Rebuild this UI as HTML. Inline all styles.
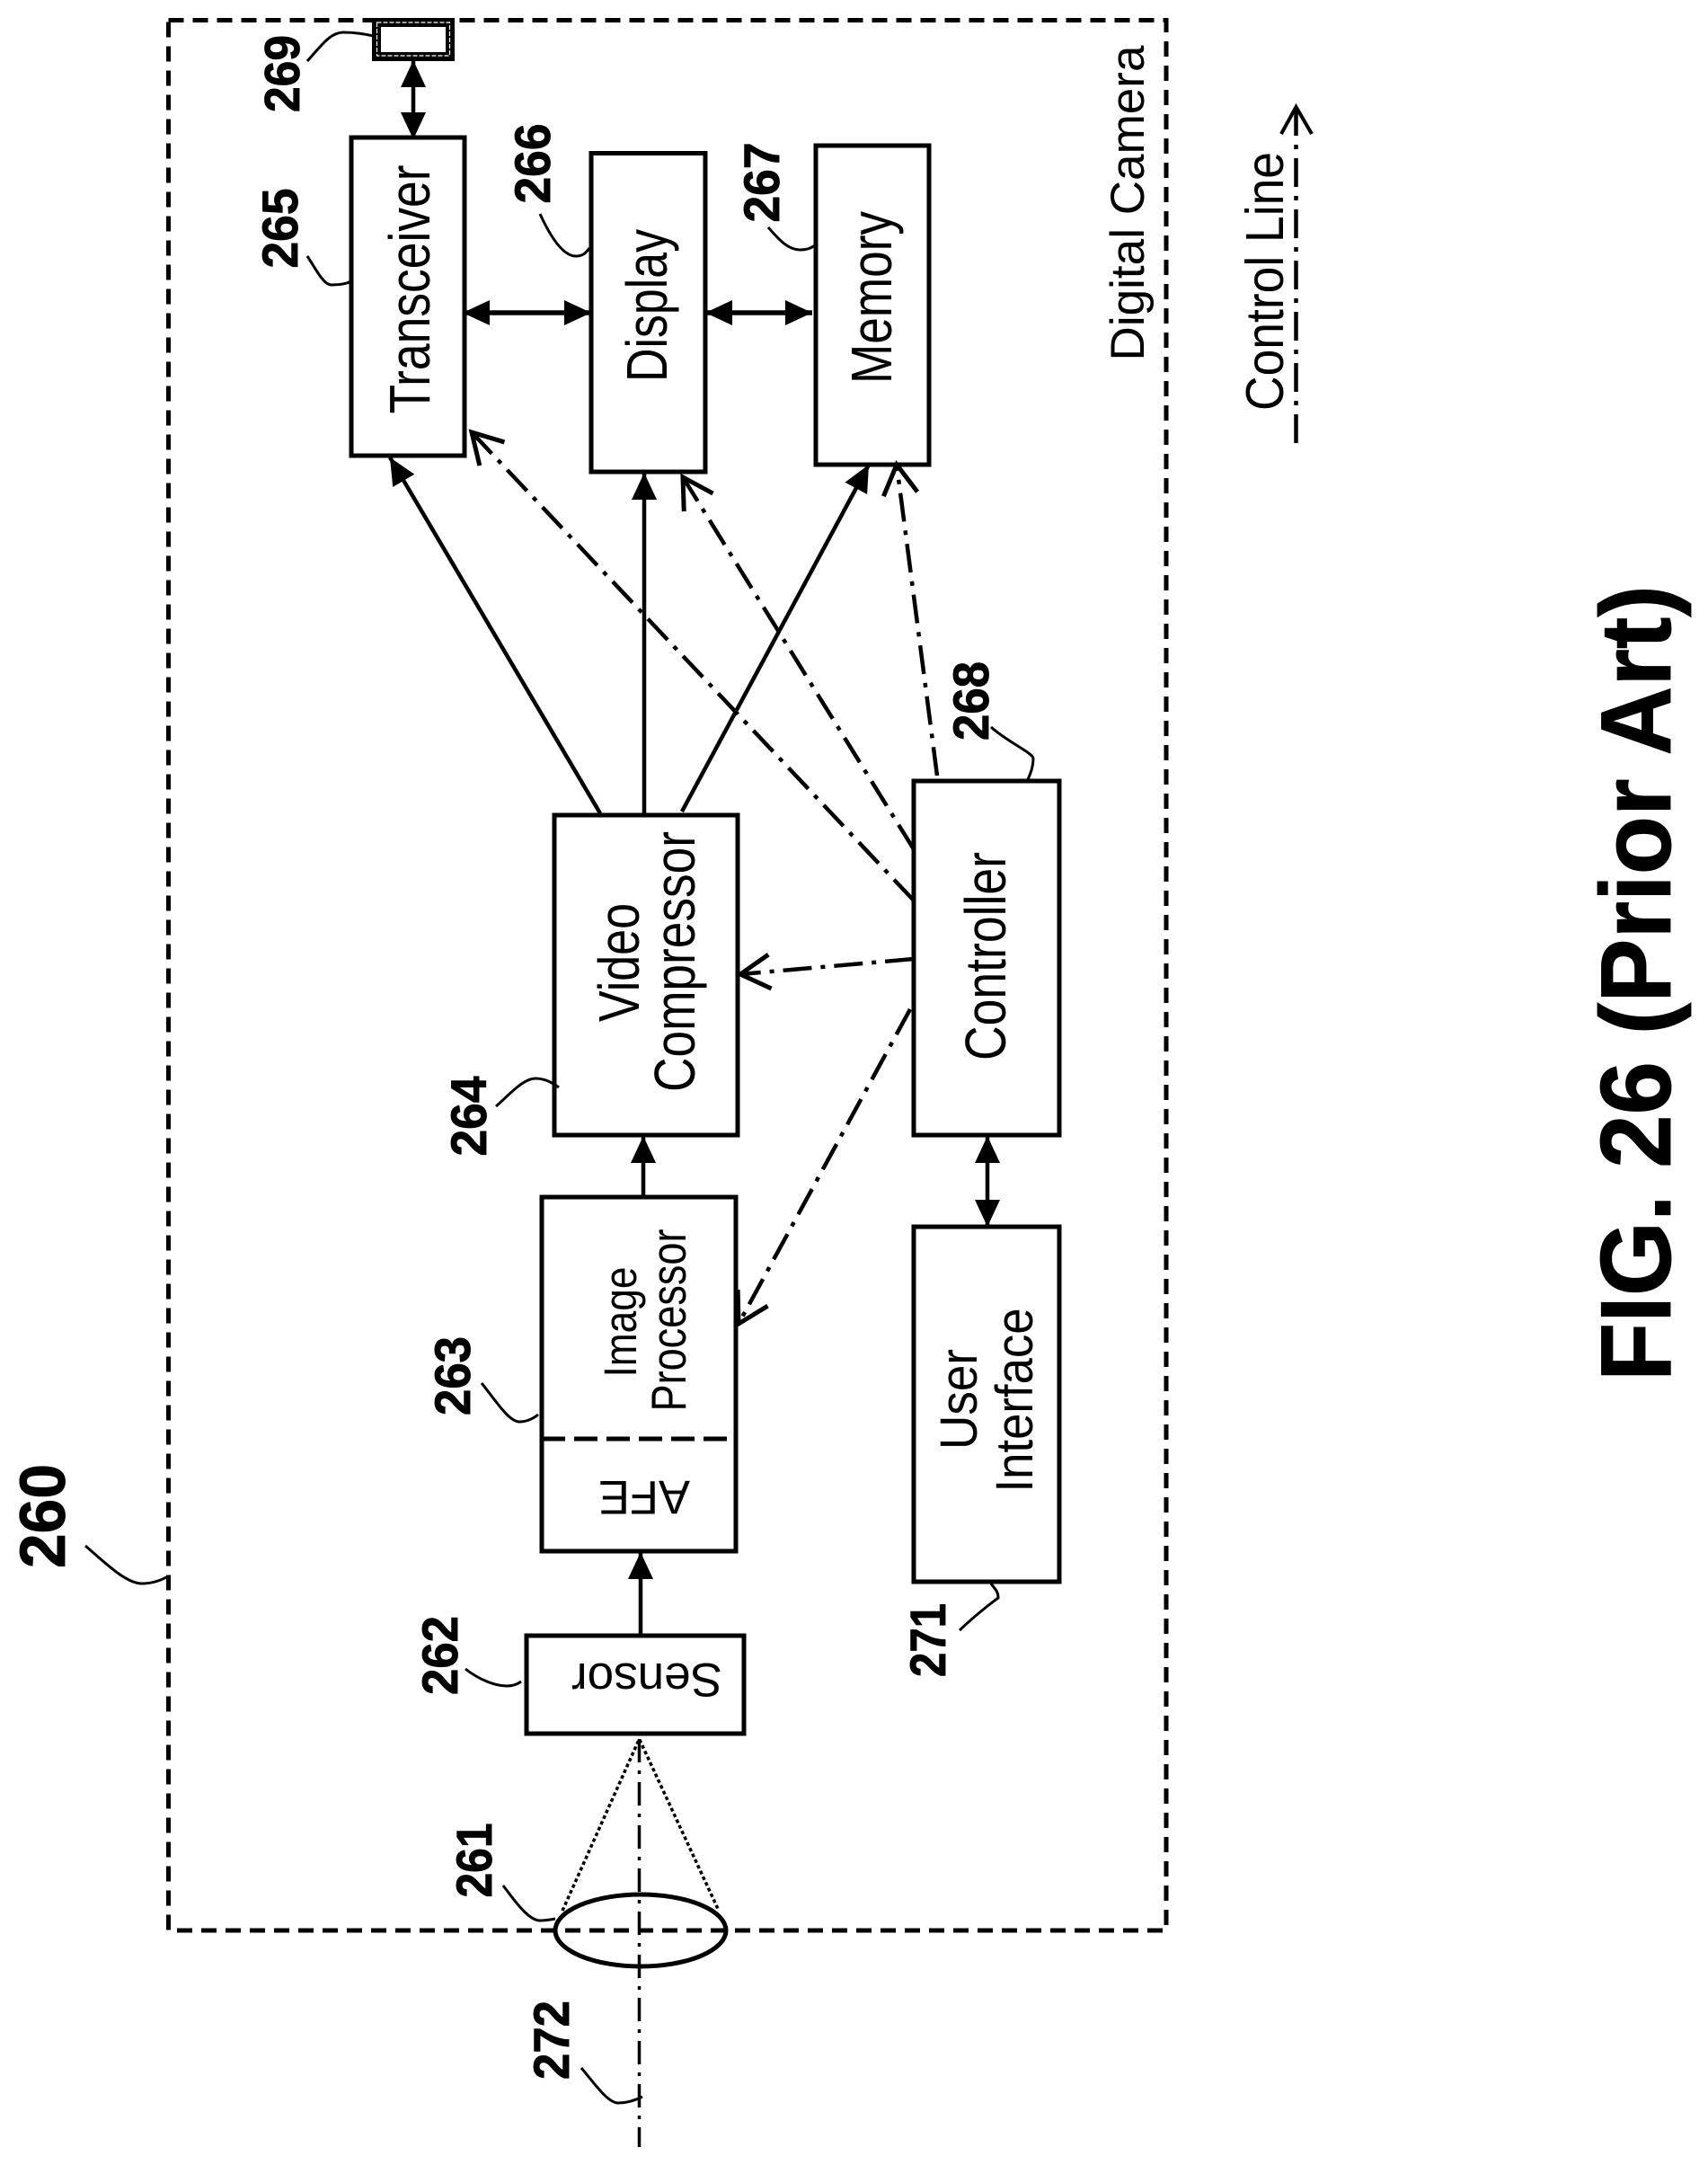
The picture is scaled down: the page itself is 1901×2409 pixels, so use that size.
<!DOCTYPE html>
<html><head><meta charset="utf-8"><style>html,body{margin:0;padding:0;background:#fff}svg{display:block}text{font-family:"Liberation Sans",sans-serif;fill:#000}.n{font-weight:bold;font-size:50px;text-anchor:middle;stroke:#000;stroke-width:.8px}.t{font-size:53px;text-anchor:middle}</style></head><body>
<svg width="1901" height="2409" viewBox="0 0 1901 2409" xmlns="http://www.w3.org/2000/svg">
<defs>
<marker id="f" markerUnits="userSpaceOnUse" markerWidth="32" markerHeight="30" refX="30" refY="15" orient="auto-start-reverse"><path d="M0 1L30 15L0 29Z" fill="#000"/></marker>
<marker id="o" markerUnits="userSpaceOnUse" markerWidth="44" markerHeight="48" refX="38" refY="24" orient="auto"><path d="M5 5L38 24L5 43" fill="none" stroke="#000" stroke-width="5"/></marker>
</defs>
<rect width="1901" height="2409" fill="#fff"/>
<g fill="none" stroke="#000">
<rect x="187.500" y="22.500" width="1110.500" height="2125.500" stroke-width="5" stroke-dasharray="17 10"/>
<g stroke-width="5" fill="#fff">
<rect x="391" y="153" width="126" height="354"/>
<rect x="658" y="170.500" width="127" height="354.500"/>
<rect x="908" y="162" width="126" height="355"/>
<rect x="1017" y="869" width="162" height="394"/>
<rect x="617" y="907" width="204" height="356"/>
<rect x="603" y="1332" width="216" height="394"/>
<rect x="1017" y="1365" width="162" height="395"/>
<rect x="586" y="1820" width="242" height="109"/>
</g>
<path d="M603 1601H819" stroke-width="5" stroke-dasharray="26 10"/>
<rect x="419" y="25" width="82" height="38" stroke-width="10" fill="#fff"/>
<rect x="419.500" y="25" width="81" height="37" stroke-width="1.200" stroke="#fff" stroke-dasharray="5 2"/>
<ellipse cx="713" cy="2148" rx="95" ry="40" stroke-width="5"/>
<path d="M626 2126L711.500 1935L800 2126" stroke-width="3.500" stroke-dasharray="4 3"/>
<path d="M711.500 1935V2389" stroke-width="3.500" stroke-dasharray="26 9 4 9"/>

<g stroke-width="4.500">
<path d="M713 1820V1727" marker-end="url(#f)"/>
<path d="M716 1332V1264" marker-end="url(#f)"/>
<path d="M668 905L434 509" marker-end="url(#f)"/>
<path d="M717 907V526" marker-end="url(#f)"/>
<path d="M759 903L967 517" marker-end="url(#f)"/>
<path d="M460 67V155" marker-start="url(#f)" marker-end="url(#f)"/>
<path d="M515 348H658" stroke-width="5.500" marker-start="url(#f)" marker-end="url(#f)"/>
<path d="M785 348H904" stroke-width="5.500" marker-start="url(#f)" marker-end="url(#f)"/>
<path d="M1099 1264V1365" marker-start="url(#f)" marker-end="url(#f)"/>
</g>

<g stroke-width="4.500" stroke-dasharray="32 10 5 10">
<path d="M1017 1002L525 481" marker-end="url(#o)"/>
<path d="M1017 945L760 531" marker-end="url(#o)"/>
<path d="M1043 863L998 517" marker-end="url(#o)"/>
<path d="M1017 1067L824 1084" marker-end="url(#o)"/>
<path d="M1013 1123L822 1473" marker-end="url(#o)"/>
<path d="M1442.500 493V121" stroke-width="4.500" stroke-dasharray="32 10 5 10"/>
</g>
<path d="M1426 149L1442.500 119L1460 149" stroke-width="4"/>

<g stroke-width="3">
<path d="M342 68C358 50 368 36 382 36C396 36 406 38 416 40"/>
<path d="M342 285C352 300 360 317 369 317C378 317 385 316 391 313"/>
<path d="M601 238C612 262 626 285 641 285C648 285 652 282 656 276"/>
<path d="M855 253C866 265 876 278 891 278C898 278 903 276 907 273"/>
<path d="M1103 809C1122 826 1150 838 1150 844C1150 855 1146 862 1143 870"/>
<path d="M552 1231C566 1219 582 1200 596 1200C607 1200 615 1205 622 1210"/>
<path d="M536 1539C550 1556 566 1582 578 1582C587 1582 594 1578 599 1574"/>
<path d="M95 1720C116 1738 140 1762 158 1762C170 1762 180 1758 187 1754"/>
<path d="M518 1857C532 1868 550 1876 564 1876C571 1876 576 1874 580 1871"/>
<path d="M1068 1814C1090 1793 1111 1778 1111 1778C1111 1770 1107 1768 1103 1762"/>
<path d="M560 2098C572 2114 588 2137 601 2137C608 2137 613 2136 618 2135"/>
<path d="M647 2301C660 2316 676 2340 688 2340C698 2340 707 2337 715 2333"/>
</g>
</g>

<g class="labels">
<text class="t" transform="translate(478 322) rotate(-90) scale(1 1.2)" textLength="277" lengthAdjust="spacingAndGlyphs">Transceiver</text>
<text class="t" transform="translate(742 340) rotate(-90) scale(1 1.2)" textLength="170" lengthAdjust="spacingAndGlyphs">Display</text>
<text class="t" transform="translate(992 331) rotate(-90) scale(1 1.2)" textLength="192" lengthAdjust="spacingAndGlyphs">Memory</text>
<text class="t" transform="translate(1273 226) rotate(-90)" textLength="351" lengthAdjust="spacingAndGlyphs">Digital Camera</text>
<text class="t" transform="translate(1428 313) rotate(-90) scale(1 1.12)" textLength="288" lengthAdjust="spacingAndGlyphs">Control Line</text>
<text class="t" transform="translate(711 1071) rotate(-90) scale(1 1.2)" textLength="132" lengthAdjust="spacingAndGlyphs">Video</text>
<text class="t" transform="translate(773 1070) rotate(-90) scale(1 1.2)" textLength="290" lengthAdjust="spacingAndGlyphs">Compressor</text>
<text class="t" transform="translate(1119 1064) rotate(-90) scale(1 1.2)" textLength="232" lengthAdjust="spacingAndGlyphs">Controller</text>
<text class="t" style="font-size:44px" transform="translate(708 1471) rotate(-90) scale(1 1.15)" textLength="123" lengthAdjust="spacingAndGlyphs">Image</text>
<text class="t" style="font-size:44px" transform="translate(763 1469) rotate(-90) scale(1 1.25)" textLength="203" lengthAdjust="spacingAndGlyphs">Processor</text>
<text class="t" transform="translate(1087 1557) rotate(-90) scale(1 1.1)" textLength="112" lengthAdjust="spacingAndGlyphs">User</text>
<text class="t" transform="translate(1149 1558) rotate(-90) scale(1 1.1)" textLength="205" lengthAdjust="spacingAndGlyphs">Interface</text>
<text class="t" transform="translate(717 1648) rotate(180)" textLength="102" lengthAdjust="spacingAndGlyphs">AFE</text>
<text class="t" transform="translate(720 1851) rotate(180)" textLength="168" lengthAdjust="spacingAndGlyphs">Sensor</text>

<text class="n" transform="translate(333 82) rotate(-90) scale(1 1.1)" textLength="86" lengthAdjust="spacingAndGlyphs">269</text>
<text class="n" transform="translate(331 254) rotate(-90) scale(1 1.12)" textLength="89" lengthAdjust="spacingAndGlyphs">265</text>
<text class="n" transform="translate(612 182) rotate(-90) scale(1 1.12)" textLength="89" lengthAdjust="spacingAndGlyphs">266</text>
<text class="n" transform="translate(867 203) rotate(-90) scale(1 1.12)" textLength="89" lengthAdjust="spacingAndGlyphs">267</text>
<text class="n" transform="translate(1100 780) rotate(-90) scale(1 1.12)" textLength="88" lengthAdjust="spacingAndGlyphs">268</text>
<text class="n" transform="translate(541 1242) rotate(-90) scale(1 1.12)" textLength="89" lengthAdjust="spacingAndGlyphs">264</text>
<text class="n" transform="translate(523 1531) rotate(-90) scale(1 1.12)" textLength="88" lengthAdjust="spacingAndGlyphs">263</text>
<text class="n" style="font-size:68px" transform="translate(72 1687) rotate(-90) scale(1 1.05)" textLength="116" lengthAdjust="spacingAndGlyphs">260</text>
<text class="n" transform="translate(509 1842) rotate(-90) scale(1 1.12)" textLength="88" lengthAdjust="spacingAndGlyphs">262</text>
<text class="n" transform="translate(1052 1825) rotate(-90) scale(1 1.12)" textLength="82" lengthAdjust="spacingAndGlyphs">271</text>
<text class="n" transform="translate(547 2070) rotate(-90) scale(1 1.12)" textLength="83" lengthAdjust="spacingAndGlyphs">261</text>
<text class="n" transform="translate(633 2270) rotate(-90) scale(1 1.12)" textLength="88" lengthAdjust="spacingAndGlyphs">272</text>
<text class="n" style="font-size:106px" transform="translate(1859 1094) rotate(-90) scale(1 1.05)" textLength="886" lengthAdjust="spacingAndGlyphs">FIG. 26 (Prior Art)</text>
</g>
</svg>
</body></html>
